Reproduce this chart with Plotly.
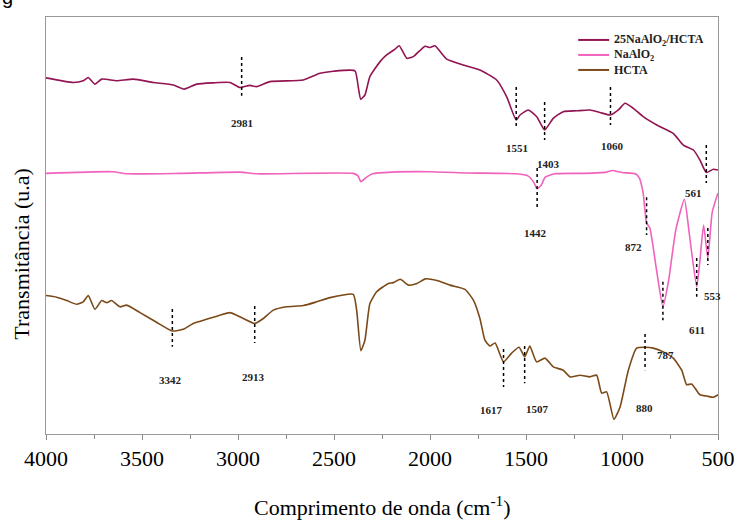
import plotly.graph_objects as go

# ---------------- data (arbitrary units) ----------------
wn_comp = [4000, 3858, 3806, 3780, 3745, 3710, 3632, 3545, 3441, 3337, 3281, 3215, 3129, 3042,
           2990, 2938, 2903, 2833, 2660, 2573, 2504, 2391, 2374, 2361, 2339, 2313, 2260, 2226,
           2182, 2160, 2121, 2087, 2026, 2000, 1974, 1913, 1827, 1740, 1653, 1601, 1551, 1531,
           1488, 1444, 1403, 1358, 1306, 1236, 1167, 1115, 1060, 1019, 984, 941, 889, 819, 733,
           681, 628, 594, 561, 524, 500]
t_comp = [85.4, 84.3, 84.7, 85.5, 83.9, 85.1, 84.7, 85.1, 84.3, 83.7, 82.7, 83.9, 84.2, 84.3,
          83.1, 83.6, 83.3, 84.5, 84.9, 86.5, 87.0, 87.1, 83.3, 80.3, 81.3, 85.7, 89.3, 90.9,
          92.3, 93.1, 90.1, 90.5, 93.0, 92.7, 93.1, 89.9, 88.5, 87.3, 84.9, 80.9, 75.3, 76.5,
          77.7, 76.1, 72.9, 75.7, 77.3, 77.5, 77.7, 77.1, 76.5, 77.7, 79.3, 78.1, 76.1, 74.1, 72.1,
          69.3, 68.1, 65.7, 62.7, 63.5, 63.3]

wn_na = [4000, 3650, 3580, 3300, 2990, 2900, 2400, 2375, 2360, 2330, 2300, 2200, 2000, 1800,
         1550, 1490, 1460, 1442, 1420, 1400, 1350, 1200, 1080, 1050, 1000, 930, 910, 890, 872,
         855, 820, 787, 757, 720, 675, 650, 611, 595, 575, 553, 530, 500]
t_na = [62.5, 62.9, 62.4, 62.5, 62.8, 62.4, 62.5, 61.9, 60.5, 61.6, 62.4, 62.8, 62.9, 62.6,
        62.4, 61.9, 60.4, 58.8, 59.7, 61.6, 62.4, 62.5, 62.8, 63.2, 62.7, 62.4, 61.4, 57.8, 50.6,
        49.4, 39.3, 30.5, 36.9, 48.9, 56.3, 48.2, 35.3, 41.2, 50.1, 42.2, 53.2, 57.8]

wn_hcta = [4000, 3944, 3892, 3840, 3806, 3780, 3745, 3710, 3684, 3658, 3615, 3580, 3510, 3424,
           3342, 3285, 3233, 3163, 3094, 3042, 3007, 2913, 2868, 2816, 2747, 2660, 2590, 2521,
           2400, 2382, 2360, 2339, 2313, 2278, 2217, 2191, 2155, 2111, 2068, 2024, 1964, 1896,
           1818, 1774, 1740, 1714, 1688, 1661, 1617, 1575, 1536, 1507, 1480, 1445, 1401, 1358,
           1306, 1271, 1219, 1167, 1132, 1106, 1080, 1042, 1010, 967, 924, 880, 837, 785, 733,
           689, 663, 637, 594, 559, 524, 500]
t_hcta = [33.2, 32.8, 32.0, 31.1, 31.7, 33.2, 29.9, 32.0, 31.5, 32.0, 30.5, 30.9, 29.1, 26.8,
          24.7, 25.1, 26.5, 27.5, 28.5, 29.1, 28.5, 26.5, 27.7, 29.7, 30.5, 30.8, 31.7, 32.7,
          33.5, 29.7, 20.0, 22.5, 31.3, 34.1, 36.1, 36.3, 37.1, 35.7, 36.1, 37.2, 36.8, 35.7,
          34.7, 32.1, 27.7, 22.5, 21.1, 21.8, 17.3, 19.4, 20.8, 18.5, 21.1, 17.3, 18.2, 16.1,
          15.3, 13.7, 14.1, 13.7, 14.1, 9.8, 10.1, 3.5, 6.5, 15.3, 20.6, 20.8, 20.6, 19.7, 18.2,
          15.3, 11.8, 12.0, 9.4, 9.1, 8.8, 9.4]

series_names = ["25NaAlO<sub>2</sub>/HCTA", "NaAlO<sub>2</sub>", "HCTA"]

# peak labels: wavenumber marked, text
peak_wn = [2981, 1551, 1403, 1060, 561, 1442, 872, 787, 611, 553, 3342, 2913, 1617, 1507, 880]
peak_text = ["2981", "1551", "1403", "1060", "561", "1442", "872", "787", "611", "553",
             "3342", "2913", "1617", "1507", "880"]

x_ticks = [4000, 3500, 3000, 2500, 2000, 1500, 1000, 500]

# ---------------- layout of the peak markers (positions only) ----------------
mark_lines = [(90.4, 81.1), (83.2, 73.6), (79.6, 70.5), (83.2, 74.1), (69.3, 60.2), (63.8, 54.4),
              (56.8, 47.7), (36.5, 27.3), (42.2, 32.9), (49.4, 40.5), (30.0, 20.9), (30.7, 21.8),
              (20.4, 11.3), (21.1, 12.2), (24.0, 15.3)]
label_pos = [(2981, 74.6), (1548, 68.6), (1385, 64.7), (1048, 69.1), (630, 57.8), (1448, 48.3),
             (938, 44.9), (776, 18.9), (609, 24.9), (531, 33.1), (3349, 12.9), (2919, 13.7),
             (1680, 5.8), (1440, 6.0), (885, 6.2)]

# legend placement (paper coords)
leg_x0, leg_x1, leg_tx = 0.792, 0.838, 0.842
leg_y = [0.945, 0.909, 0.873]

colors = ["#921452", "#F062BC", "#7B4A18"]
SERIF = "Liberation Serif, Times New Roman, Times, serif"

fig = go.Figure()
for wn, t, name, c in zip([wn_comp, wn_na, wn_hcta], [t_comp, t_na, t_hcta], series_names, colors):
    fig.add_trace(go.Scatter(x=wn, y=t, mode="lines", name=name, showlegend=False,
                             line=dict(color=c, width=1.6, shape="spline", smoothing=0.5)))

for xw, (y0, y1) in zip(peak_wn, mark_lines):
    fig.add_shape(type="line", xref="x", yref="y", x0=xw, x1=xw, y0=y0, y1=y1,
                  line=dict(color="black", width=1.5, dash="dot"))

for txt, (lx, ly) in zip(peak_text, label_pos):
    fig.add_annotation(x=lx, y=ly, xref="x", yref="y", text="<b>%s</b>" % txt, showarrow=False,
                       font=dict(family=SERIF, size=11, color="#222"))

# manual legend (compact line spacing like the original)
for name, c, ly in zip(series_names, colors, leg_y):
    fig.add_shape(type="line", xref="paper", yref="paper", x0=leg_x0, x1=leg_x1, y0=ly, y1=ly,
                  line=dict(color=c, width=2))
    fig.add_annotation(x=leg_tx, y=ly, xref="paper", yref="paper", text="<b>%s</b>" % name,
                       showarrow=False, xanchor="left", yanchor="middle",
                       font=dict(family=SERIF, size=12, color="#222"))

# axis titles
fig.add_annotation(x=0.5, y=-0.172, xref="paper", yref="paper",
                   text="Comprimento de onda (cm<sup>-1</sup>)", showarrow=False,
                   xanchor="center", yanchor="middle", font=dict(family=SERIF, size=22, color="black"))
fig.add_annotation(x=-0.036, y=0.432, xref="paper", yref="paper", text="Transmitância (u.a)",
                   showarrow=False, textangle=-90, xanchor="center", yanchor="middle",
                   font=dict(family=SERIF, size=22, color="black"))

# cropped caption letter at the top-left corner
fig.add_annotation(x=-0.068, y=1.017, xref="paper", yref="paper", text="g", showarrow=False,
                   xanchor="left", yanchor="bottom", font=dict(family="Liberation Sans", size=20, color="black"))

fig.update_layout(
    width=736, height=521,
    margin=dict(l=46, r=18, t=17, b=87),
    paper_bgcolor="white", plot_bgcolor="white",
    font=dict(family=SERIF, color="black"),
    showlegend=False,
    xaxis=dict(range=[4000, 500], tickvals=x_ticks, ticks="outside", ticklen=5, tickcolor="#888",
               showline=True, linecolor="#999", mirror=True, showgrid=False, zeroline=False,
               automargin=False, tickfont=dict(family=SERIF, size=22),
               minor=dict(dtick=250, ticks="outside", ticklen=4, tickcolor="#888")),
    yaxis=dict(range=[0, 100], showticklabels=False, ticks="", showline=True, linecolor="#999",
               mirror=True, showgrid=False, zeroline=False, automargin=False),
)

fig.write_html("out.html", config={"displayModeBar": False},
               post_script="document.body.style.margin='0';document.body.style.overflow='hidden';")
